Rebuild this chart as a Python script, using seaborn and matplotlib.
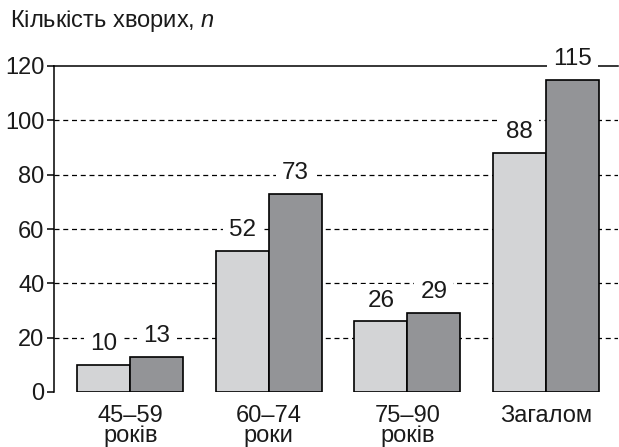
import matplotlib
matplotlib.use("Agg")
import matplotlib.pyplot as plt
import seaborn as sns
import pandas as pd

categories = ["45–59\nроків", "60–74\nроки", "75–90\nроків", "Загалом"]
series_a = [10, 52, 26, 88]
series_b = [13, 73, 29, 115]
series_names = ["Група 1", "Група 2"]
y_ticks = [0, 20, 40, 60, 80, 100, 120]

df = pd.DataFrame({
    "cat": categories * 2,
    "value": series_a + series_b,
    "series": [series_names[0]] * 4 + [series_names[1]] * 4,
})

sns.set_theme(style="white")
plt.rcParams["font.family"] = ["Liberation Sans", "DejaVu Sans"]
plt.rcParams["mathtext.fontset"] = "custom"
plt.rcParams["mathtext.it"] = "Liberation Sans:italic"
plt.rcParams["mathtext.rm"] = "Liberation Sans"

fig = plt.figure(figsize=(6.19, 4.47), dpi=100)
ax = fig.add_axes([54 / 619, 1 - 392 / 447, (618 - 54) / 619, (392 - 66) / 447])

sns.barplot(data=df, x="cat", y="value", hue="series", order=categories,
            hue_order=series_names, palette=["#d3d4d6", "#939497"],
            edgecolor="black", linewidth=1.2, width=0.765, saturation=1,
            legend=False, ax=ax)

ax.set_ylim(0, 120)
ax.set_xlim(-0.55, 3.52)
ax.set_yticks(y_ticks)
ax.set_xlabel("")
ax.set_ylabel("")
ax.yaxis.grid(True, linestyle=(0, (4, 3)), color="black", linewidth=0.9)
ax.xaxis.grid(False)
ax.set_axisbelow(True)
gl = ax.get_ygridlines()
gl[0].set_visible(False)
gl[-1].set_visible(False)
for side in ["right", "bottom"]:
    ax.spines[side].set_visible(False)
for side in ["left", "top"]:
    ax.spines[side].set_color("black")
    ax.spines[side].set_linewidth(1.1)
ax.spines["top"].set_zorder(1)
ax.tick_params(axis="y", left=True, length=5, width=1.1, color="black",
               labelsize=17, pad=2, labelcolor="#1a1a1a")
ax.tick_params(axis="x", bottom=False, labelsize=17, pad=3, labelcolor="#1a1a1a")
for lbl in ax.get_xticklabels():
    lbl.set_linespacing(0.92)

for cont in ax.containers:
    for bar in cont:
        h = bar.get_height()
        ax.annotate(f"{h:.0f}", (bar.get_x() + bar.get_width() / 2, h),
                    xytext=(0, 7), textcoords="offset points", ha="center",
                    va="bottom", fontsize=17.5, color="#1a1a1a",
                    bbox=dict(boxstyle="square,pad=0.25", fc="white", ec="none"),
                    zorder=5, annotation_clip=False)

fig.text(10 / 619, 1 - 21 / 447, "Кількість хворих, $n$", fontsize=17,
         color="#1a1a1a", va="center", ha="left")

fig.savefig("out.png", dpi=100)
